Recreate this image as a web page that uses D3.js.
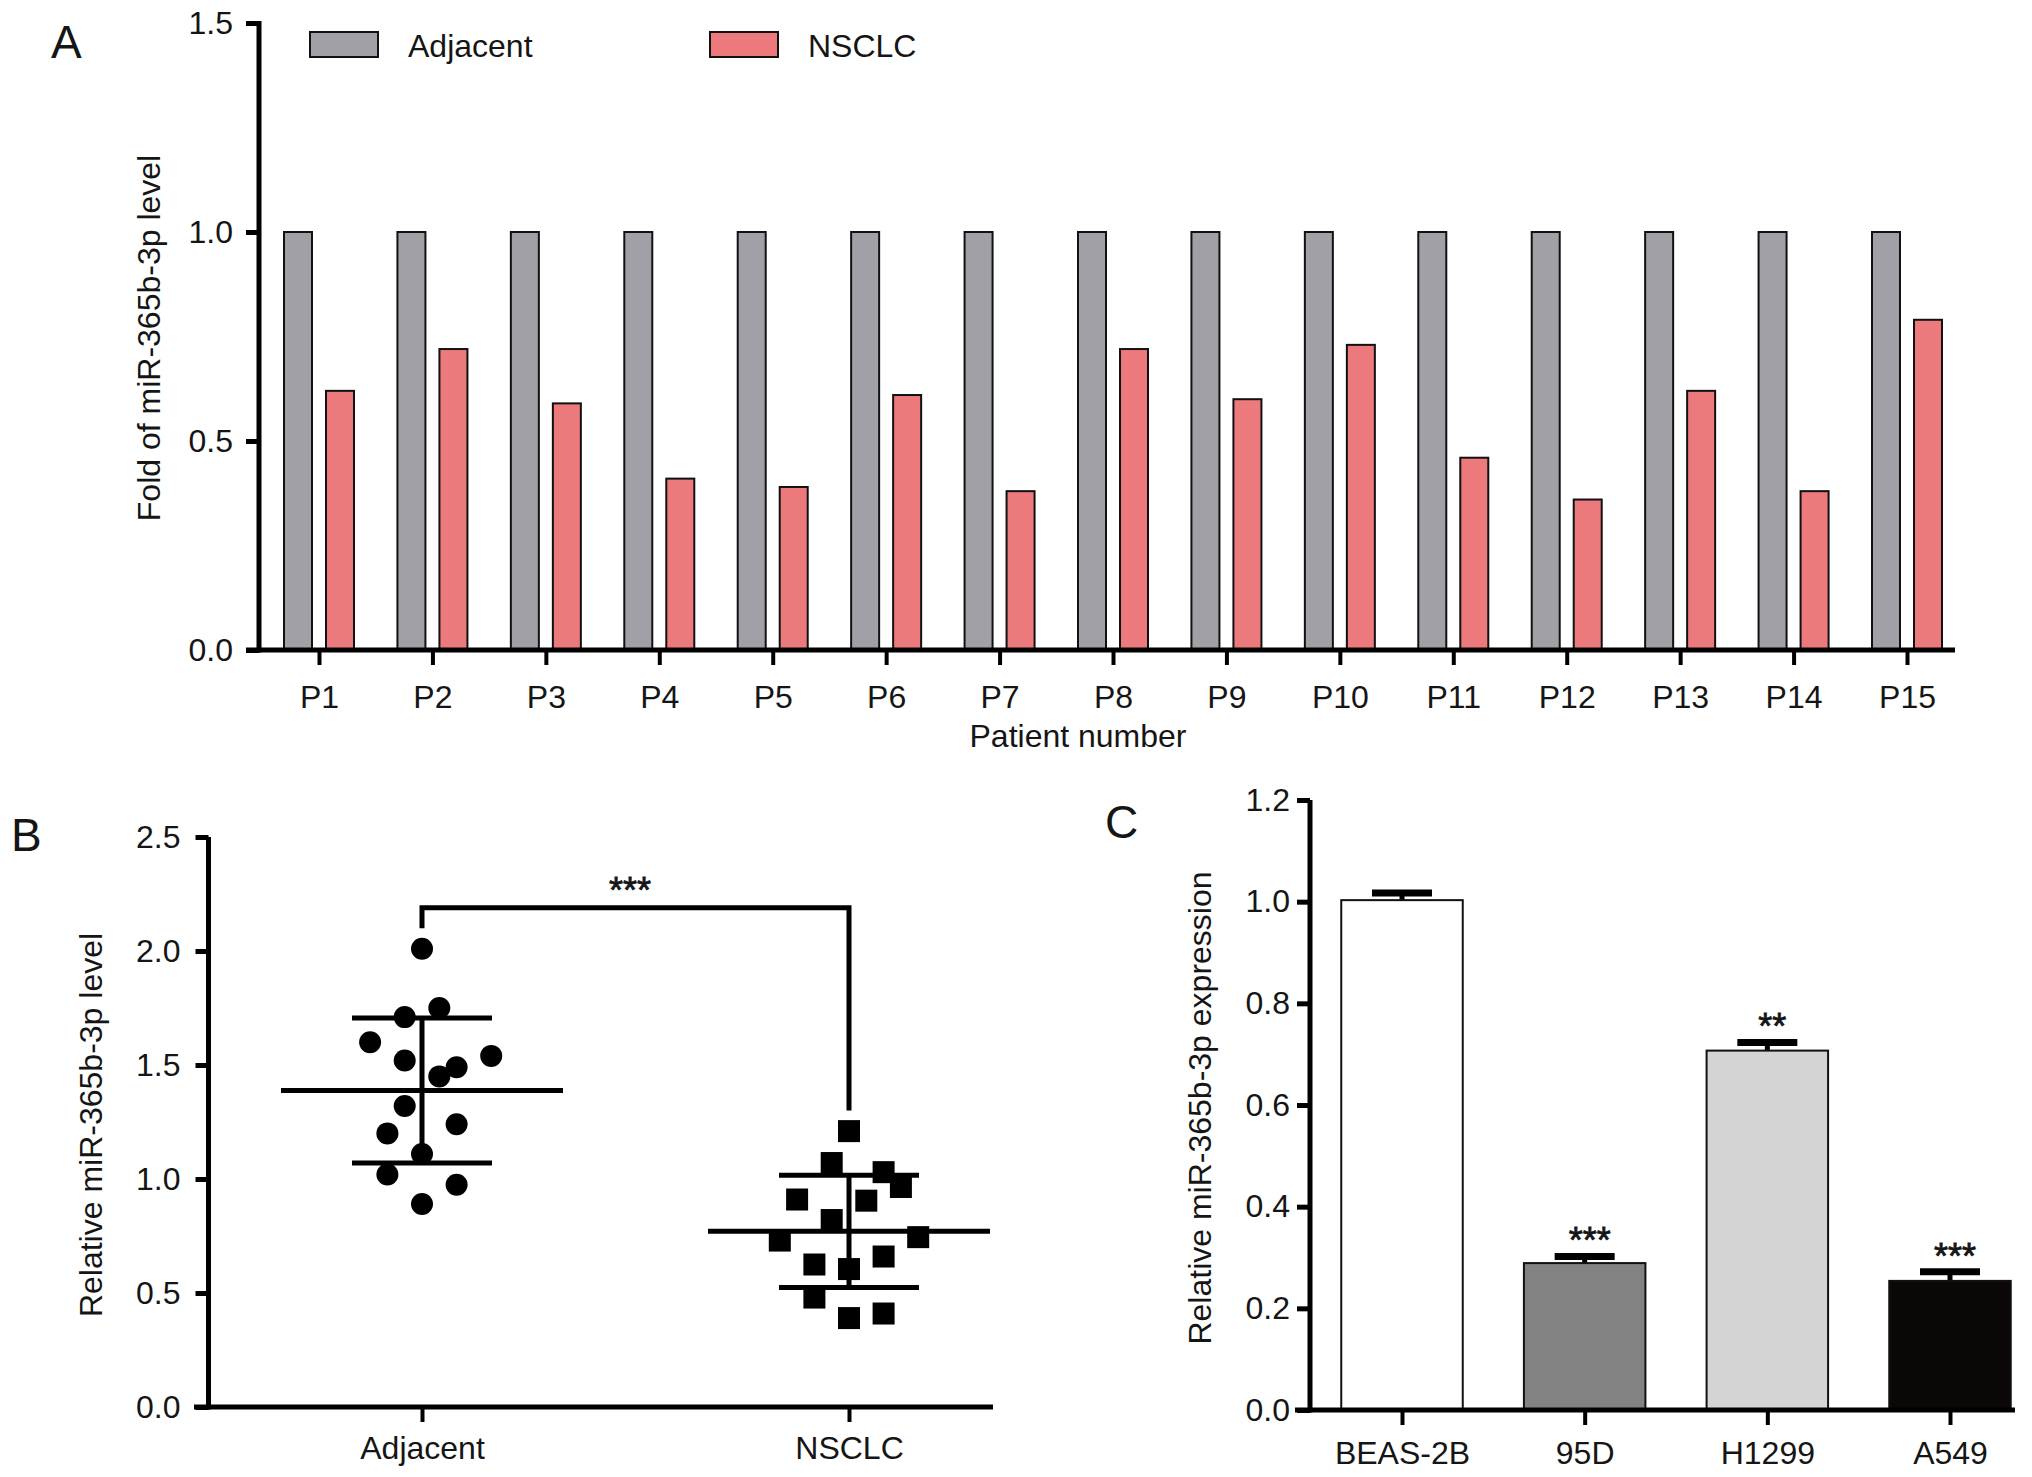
<!DOCTYPE html>
<html>
<head>
<meta charset="utf-8">
<script src="https://cdn.jsdelivr.net/npm/d3@7"></script>
<style>
  body { margin: 0; background: #fff; }
  svg text { font-family: "Liberation Sans", Arial, sans-serif; fill: #151515; }
</style>
</head>
<body>
<svg id="fig" width="2032" height="1477"></svg>
<script>
// ---- panel A : fold change per patient
const patients = ["P1","P2","P3","P4","P5","P6","P7","P8","P9","P10","P11","P12","P13","P14","P15"];
const adjacentFold = [1,1,1,1,1,1,1,1,1,1,1,1,1,1,1];
const nsclcFold = [0.62,0.72,0.59,0.41,0.39,0.61,0.38,0.72,0.60,0.73,0.46,0.36,0.62,0.38,0.79];
const foldTicks = [0, 0.5, 1.0, 1.5];

// ---- panel B : scatter of relative level
const groups = ["Adjacent", "NSCLC"];
const adjacentLevel = [2.01,1.75,1.71,1.60,1.54,1.52,1.49,1.45,1.32,1.24,1.20,1.11,1.02,0.975,0.89];
const adjacentSlot  = [0,1,-1,-3,4,-1,2,1,-1,2,-2,0,-2,2,0];
const nsclcLevel = [1.21,1.07,1.03,0.965,0.91,0.905,0.82,0.73,0.745,0.66,0.625,0.605,0.48,0.39,0.41];
const nsclcSlot  = [0,-1,2,3,-3,1,-1,-4,4,2,-2,0,-2,0,2];
const levelTicks = [0, 0.5, 1.0, 1.5, 2.0, 2.5];

// ---- panel C : cell lines
const cellLines = ["BEAS-2B", "95D", "H1299", "A549"];
const cellExpr  = [1.003, 0.289, 0.707, 0.254];
const cellSem   = [0.014, 0.013, 0.016, 0.018];
const cellStars = ["", "***", "**", "***"];
const exprTicks = [0, 0.2, 0.4, 0.6, 0.8, 1.0, 1.2];

const svg = d3.select("#fig");
const fmt1 = d3.format(".1f");
const FS = 32;

function styleAxis(g, w) {
  g.select(".domain").remove();
  g.selectAll(".tick line").attr("stroke", "#000").attr("stroke-width", w);
  g.selectAll(".tick text").attr("font-size", FS).attr("fill", "#151515");
}

function axisLines(g, x0, xEnd, yTop, yBase, xAxisStart) {
  g.append("line").attr("x1", x0).attr("x2", x0).attr("y1", yTop).attr("y2", yBase + 2.5)
    .attr("stroke", "#000").attr("stroke-width", 5);
  g.append("line").attr("x1", xAxisStart).attr("x2", xEnd).attr("y1", yBase).attr("y2", yBase)
    .attr("stroke", "#000").attr("stroke-width", 5);
}

/* ================= A ================= */
const xA = d3.scalePoint().domain(patients).range([319, 1907]);
const yA = d3.scaleLinear().domain([0, 1.5]).range([650, 23]);
const gA = svg.append("g");
const bwA = 28;
const rowsA = patients.map((p, i) => ({ p, adj: adjacentFold[i], ns: nsclcFold[i] }));

gA.selectAll("rect.adj").data(rowsA).join("rect").attr("class", "adj")
  .attr("x", d => xA(d.p) - 21 - bwA / 2)
  .attr("y", d => yA(d.adj))
  .attr("width", bwA)
  .attr("height", d => yA(0) - yA(d.adj))
  .attr("fill", "#a1a0a6").attr("stroke", "#111").attr("stroke-width", 2);

gA.selectAll("rect.ns").data(rowsA).join("rect").attr("class", "ns")
  .attr("x", d => xA(d.p) + 21 - bwA / 2)
  .attr("y", d => yA(d.ns))
  .attr("width", bwA)
  .attr("height", d => yA(0) - yA(d.ns))
  .attr("fill", "#ec7a7c").attr("stroke", "#111").attr("stroke-width", 2);

const ayA = gA.append("g").attr("transform", "translate(259,0)")
  .call(d3.axisLeft(yA).tickValues(foldTicks).tickFormat(fmt1).tickSize(13).tickPadding(13));
styleAxis(ayA, 5);
const axA = gA.append("g").attr("transform", "translate(0,650)")
  .call(d3.axisBottom(xA).tickSize(15).tickPadding(20));
styleAxis(axA, 4);
axisLines(gA, 259, 1955, 21, 650, 246);

gA.append("text").attr("x", 1078).attr("y", 747).attr("text-anchor", "middle")
  .attr("font-size", FS).text("Patient number");
gA.append("text").attr("transform", "translate(160,338) rotate(-90)").attr("text-anchor", "middle")
  .attr("font-size", FS).text("Fold of miR-365b-3p level");
gA.append("text").attr("x", 51).attr("y", 58).attr("font-size", 46).text("A");

// legend
const legend = [{ name: "Adjacent", fill: "#a1a0a6", x: 310 }, { name: "NSCLC", fill: "#ec7a7c", x: 710 }];
const lg = gA.selectAll("g.leg").data(legend).join("g").attr("class", "leg");
lg.append("rect").attr("x", d => d.x).attr("y", 32).attr("width", 68).attr("height", 25)
  .attr("fill", d => d.fill).attr("stroke", "#111").attr("stroke-width", 2);
lg.append("text").attr("x", d => d.x + 98).attr("y", 57).attr("font-size", FS).text(d => d.name);

/* ================= B ================= */
const xB = d3.scalePoint().domain(groups).range([422, 849]);
const yB = d3.scaleLinear().domain([0, 2.5]).range([1407, 837]);
const gB = svg.append("g");
const slotW = 17.3;

const ayB = gB.append("g").attr("transform", "translate(208.5,0)")
  .call(d3.axisLeft(yB).tickValues(levelTicks).tickFormat(fmt1).tickSize(13).tickPadding(15));
styleAxis(ayB, 5);
const axB = gB.append("g").attr("transform", "translate(0,1407)")
  .call(d3.axisBottom(xB).tickSize(15).tickPadding(14));
styleAxis(axB, 4);
axisLines(gB, 208.5, 993, 837, 1407, 194);

const ptsAdj = adjacentLevel.map((v, i) => ({ v, s: adjacentSlot[i] }));
const ptsNs = nsclcLevel.map((v, i) => ({ v, s: nsclcSlot[i] }));

gB.selectAll("circle.adj").data(ptsAdj).join("circle").attr("class", "adj")
  .attr("cx", d => xB("Adjacent") + d.s * slotW)
  .attr("cy", d => yB(d.v))
  .attr("r", 11).attr("fill", "#000");

gB.selectAll("rect.ns").data(ptsNs).join("rect").attr("class", "ns")
  .attr("x", d => xB("NSCLC") + d.s * slotW - 11)
  .attr("y", d => yB(d.v) - 11)
  .attr("width", 22).attr("height", 22).attr("fill", "#000");

// mean +/- SD
const stats = [
  { g: "Adjacent", vals: adjacentLevel },
  { g: "NSCLC", vals: nsclcLevel }
].map(d => ({ g: d.g, m: d3.mean(d.vals), sd: d3.deviation(d.vals), max: d3.max(d.vals) }));

stats.forEach(d => {
  const cx = xB(d.g);
  gB.append("line").attr("x1", cx - 141).attr("x2", cx + 141).attr("y1", yB(d.m)).attr("y2", yB(d.m))
    .attr("stroke", "#000").attr("stroke-width", 5);
  gB.append("line").attr("x1", cx).attr("x2", cx).attr("y1", yB(d.m + d.sd)).attr("y2", yB(d.m - d.sd))
    .attr("stroke", "#000").attr("stroke-width", 5);
  [d.m + d.sd, d.m - d.sd].forEach(v => {
    gB.append("line").attr("x1", cx - 70).attr("x2", cx + 70).attr("y1", yB(v)).attr("y2", yB(v))
      .attr("stroke", "#000").attr("stroke-width", 5);
  });
});

// significance bracket
const brY = 2.19;
gB.append("path")
  .attr("d", `M${xB("Adjacent")},${yB(stats[0].max + 0.09)} V${yB(brY)} H${xB("NSCLC")} V${yB(stats[1].max + 0.09)}`)
  .attr("fill", "none").attr("stroke", "#000").attr("stroke-width", 5);
gB.append("text").attr("x", 630).attr("y", 903).attr("text-anchor", "middle")
  .attr("font-size", 36).attr("stroke", "#151515").attr("stroke-width", 0.8).text("***");

gB.append("text").attr("transform", "translate(102,1125) rotate(-90)").attr("text-anchor", "middle")
  .attr("font-size", FS).text("Relative miR-365b-3p level");
gB.append("text").attr("x", 11).attr("y", 851).attr("font-size", 46).text("B");

/* ================= C ================= */
const xC = d3.scalePoint().domain(cellLines).range([1402, 1950]);
const yC = d3.scaleLinear().domain([0, 1.2]).range([1410, 800]);
const gC = svg.append("g");
const bwC = 121.5;
const fillsC = ["#ffffff", "#828282", "#d4d4d4", "#0c0707"];
const rowsC = cellLines.map((c, i) => ({ c, v: cellExpr[i], e: cellSem[i], star: cellStars[i], f: fillsC[i] }));

// error bars (upper only)
gC.selectAll("line.err").data(rowsC).join("line").attr("class", "err")
  .attr("x1", d => xC(d.c)).attr("x2", d => xC(d.c))
  .attr("y1", d => yC(d.v)).attr("y2", d => yC(d.v + d.e))
  .attr("stroke", "#000").attr("stroke-width", 5);
gC.selectAll("line.cap").data(rowsC).join("line").attr("class", "cap")
  .attr("x1", d => xC(d.c) - 30).attr("x2", d => xC(d.c) + 30)
  .attr("y1", d => yC(d.v + d.e)).attr("y2", d => yC(d.v + d.e))
  .attr("stroke", "#000").attr("stroke-width", 7);

gC.selectAll("rect.bar").data(rowsC).join("rect").attr("class", "bar")
  .attr("x", d => xC(d.c) - bwC / 2)
  .attr("y", d => yC(d.v))
  .attr("width", bwC)
  .attr("height", d => yC(0) - yC(d.v))
  .attr("fill", d => d.f).attr("stroke", "#111").attr("stroke-width", 2);

gC.selectAll("text.star").data(rowsC).join("text").attr("class", "star")
  .attr("x", d => xC(d.c) + 5).attr("y", d => yC(d.v + d.e) - 3)
  .attr("text-anchor", "middle").attr("font-size", 36)
  .attr("stroke", "#151515").attr("stroke-width", 0.8).text(d => d.star);

const ayC = gC.append("g").attr("transform", "translate(1310,0)")
  .call(d3.axisLeft(yC).tickValues(exprTicks).tickFormat(fmt1).tickSize(13).tickPadding(7));
styleAxis(ayC, 5);
const axC = gC.append("g").attr("transform", "translate(0,1410)")
  .call(d3.axisBottom(xC).tickSize(15).tickPadding(16));
styleAxis(axC, 4);
axisLines(gC, 1310, 2015, 800, 1410, 1295);

gC.append("text").attr("transform", "translate(1211,1108) rotate(-90)").attr("text-anchor", "middle")
  .attr("font-size", FS).text("Relative miR-365b-3p expression");
gC.append("text").attr("x", 1105).attr("y", 838).attr("font-size", 46).text("C");
</script>
</body>
</html>
